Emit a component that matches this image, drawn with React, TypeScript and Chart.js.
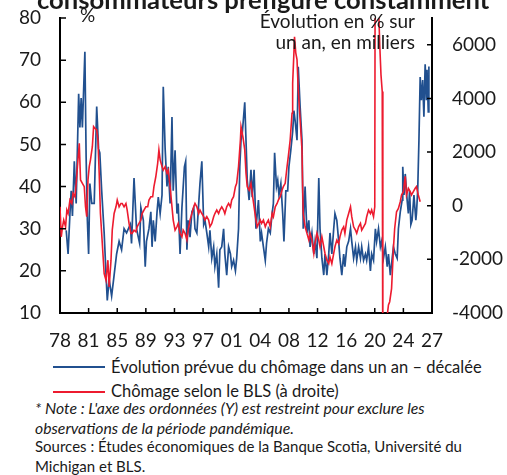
import React, { useEffect, useRef } from 'react';
import { Chart, registerables } from 'chart.js';

Chart.register(...registerables);

// ---- Axis / tick data ----
const START_YEAR = 1978;
const X_MAX_MONTH = 598; // months after Jan 1978
const X_TICK_STEP = 46; // months between x-axis labels
const leftTicks = [10, 20, 30, 40, 50, 60, 70, 80];
const rightTicks = [-4000, -2000, 0, 2000, 4000, 6000];

// ---- Series: expected change in unemployment, shifted (left axis, %) ----
// months counted from Jan 1978
const blueMonths = [
  10, 13, 16, 18, 20, 23, 26, 30, 32, 34,
  36, 40, 42, 44, 46, 48, 51, 55, 59, 62,
  64, 67, 71, 74, 76, 79, 83, 87, 91, 95,
  99, 103, 107, 113, 115, 119, 123, 128, 130, 134,
  137, 139, 143, 146, 148, 150, 153, 156, 158, 161,
  164, 166, 169, 172, 174, 177, 180, 182, 185, 188,
  190, 193, 196, 200, 202, 204, 206, 209, 212, 215,
  217, 220, 223, 225, 228, 231, 233, 236, 239, 241,
  244, 247, 249, 252, 255, 257, 260, 263, 265, 268,
  271, 274, 276, 279, 282, 284, 287, 289, 291, 293,
  297, 299, 301, 304, 307, 309, 312, 315, 319, 322,
  324, 327, 330, 332, 335, 338, 341, 343, 345, 348,
  350, 352, 355, 358, 360, 363, 366, 368, 371, 374,
  376, 378, 381, 383, 386, 389, 391, 394, 397, 400,
  402, 405, 408, 410, 413, 416, 418, 421, 424, 426,
  429, 432, 434, 437, 440, 442, 445, 448, 450, 453,
  456, 458, 461, 464, 467, 469, 472, 475, 477, 480,
  483, 485, 488, 491, 493, 496, 499, 501, 504, 507,
  509, 512, 515, 517, 520, 523, 526, 528, 531, 534,
  536, 539, 542, 544, 547, 550, 551, 553, 555, 558,
  560, 562, 564, 566, 569, 572, 573, 575, 577, 579,
  581, 583, 585, 587, 589, 590, 592, 593,
];
const blueValues = [
  29.6, 24, 33.6, 39, 33, 46, 36, 62, 54, 61,
  54, 72, 47, 32, 24, 40.7, 36, 36, 59, 49,
  48, 39, 29, 19, 13, 18, 14, 19, 24, 27,
  25, 30, 29, 31, 26.5, 42, 30, 26.5, 35, 32,
  21, 27, 30, 34, 25.7, 32, 27, 34, 37.5, 33.6,
  38, 63.7, 49, 40, 44.7, 36, 56.5, 39, 48.6, 33.6,
  36, 24, 35, 44.7, 46, 25, 32, 28, 34, 35,
  30, 29, 36, 40.7, 46, 31, 32, 29, 25.7, 29.6,
  23, 25.7, 21, 24, 16, 25, 25.7, 30, 24, 19,
  25.7, 24, 21, 22.5, 20, 23, 30, 44.7, 51, 52.6,
  60, 51, 41.5, 36.8, 44, 37.5, 44, 30, 36.8, 27,
  29, 25.7, 22.5, 26.5, 30, 29, 33.6, 36, 48, 40,
  41.5, 38, 40.7, 33.6, 27, 39, 39, 44.7, 48.6, 53,
  58, 55.6, 51, 68.4, 59, 51, 30, 40, 29, 32,
  25.7, 29, 24, 27, 23, 42, 30, 23, 19, 24,
  19, 24, 29, 24, 30, 33.6, 32, 27, 23, 19,
  24, 21, 25.7, 27, 30, 27, 23, 25.7, 22.5, 25.7,
  23, 25.7, 22.5, 24, 22.5, 25.7, 20, 24, 22.5, 30,
  27, 30, 25.7, 27, 23, 25.7, 21, 24, 19, 23,
  25.7, 24, 23, 30, 34, 36.8, 44.7, 38, 43, 36.8,
  33.6, 39, 31, 32, 38, 32, 33.6, 39, 51, 66,
  60.5, 65.3, 56.6, 69, 60.5, 67.7, 57.7, 68.5,
];

// ---- Series: BLS unemployment, y/y change in thousands (right axis) ----
const redMonths = [
  0, 2, 4, 6, 9, 11, 13, 16, 19, 21,
  24, 26, 28, 31, 33, 36, 39, 41, 43, 45,
  47, 49, 52, 54, 56, 59, 61, 63, 65, 69,
  71, 74, 77, 79, 82, 84, 87, 90, 92, 95,
  98, 100, 103, 106, 108, 111, 114, 116, 119, 122,
  124, 127, 130, 132, 135, 138, 141, 143, 146, 149,
  151, 154, 157, 159, 161, 164, 166, 169, 172, 174,
  177, 180, 182, 185, 188, 190, 193, 196, 198, 201,
  204, 206, 209, 212, 215, 217, 220, 223, 225, 228,
  231, 233, 236, 239, 241, 244, 247, 249, 252, 255,
  257, 260, 263, 265, 268, 271, 274, 276, 279, 282,
  284, 287, 290, 291, 294, 297, 299, 301, 304, 307,
  309, 312, 315, 317, 322, 324, 327, 330, 332, 335,
  338, 341, 343, 346, 349, 351, 354, 357, 359, 362,
  365, 367, 370, 373, 374, 376, 377, 379, 381, 383,
  386, 389, 390, 391, 394, 397, 400, 402, 405, 408,
  410, 413, 416, 418, 421, 424, 426, 429, 432, 434,
  437, 440, 442, 445, 448, 450, 453, 456, 458, 461,
  464, 467, 469, 472, 475, 477, 480, 483, 485, 488,
  491, 493, 496, 499, 501, 504, 506, 507, 508, 510,
  512, 514, 516, 518, 519, 521, 523, 525, 528, 530,
  533, 536, 538, 541, 544, 547, 549, 552, 555, 557,
  560, 563, 565, 568, 571, 573, 576, 579,
];
const redValues = [
  -40, -1160, -785, -535, -785, -160, -290, 210, 85, 460,
  335, 835, 1460, 2330, 960, 835, 710, -40, -410, 960,
  1460, 1710, 2200, 2950, 2890, 2830, 2450, 1210, -290, -1780,
  -2530, -2780, -2030, -3030, -2030, -910, -290, -40, 210, -40,
  85, 85, -40, 85, -160, -660, -1030, -1030, -910, -970,
  -785, -660, -535, -290, -160, -40, -40, 210, 335, 335,
  710, 1080, 1580, 2080, 1710, 1460, 1330, 1460, 1210, 1330,
  710, -40, -535, -910, -785, -660, -1030, -1160, -910, -1030,
  -1280, -910, -535, -290, -40, 85, -40, -290, -160, -290,
  -410, -535, -410, -535, -785, -660, -410, -290, -160, -290,
  -160, -40, -160, -290, -40, 85, -40, 210, 335, 710,
  835, 1460, 2450, 2950, 2580, 2080, 1210, 710, 585, 835,
  460, -40, -535, -785, -535, -660, -535, -785, -660, -535,
  -785, -290, -410, -40, 85, 210, 335, 585, 710, 835,
  1460, 1830, 2450, 3450, 4570, 5690, 6300, 5700, 5450, 4320,
  3200, 2080, 710, -290, -785, -1030, -1280, -1030, -1280, -1780,
  -1410, -1030, -1280, -1530, -1160, -1530, -1780, -2030, -2160, -1910,
  -2160, -1780, -1530, -1280, -1410, -1160, -910, -785, -1030, -535,
  -290, -40, -410, -785, -910, -1030, -785, -660, -910, -785,
  -660, -410, -160, -290, -160, -410, -40, 15000, 12000, 9500,
  7500, 6000, 4880, 4260, -7500, -6000, -5000, -4300, -3700, -3580,
  -3090, -1600, -850, -225, -100, 150, 400, 525, 1100, 400,
  650, 525, 400, 525, 650, 710, 400, 150,
];

const titleText = 'consommateurs préfigure constamment';
const leftUnit = '%';
const rightUnitLines = ['Évolution en % sur', 'un an, en milliers'];
const legendLabels = [
  'Évolution prévue du chômage dans un an – décalée',
  'Chômage selon le BLS (à droite)',
];
const noteLines = [
  "* Note : L'axe des ordonnées (Y) est restreint pour exclure les",
  'observations de la période pandémique.',
];
const sourceLines = [
  'Sources : Études économiques de la Banque Scotia, Université du',
  'Michigan et BLS.',
];

const BLUE = '#21508f';
const RED = '#ed1b2f';
const TEXT = '#1a1a1a';
const FONT = 'Lato, "Open Sans", sans-serif';

const innerTicks = {
  id: 'innerTicks',
  afterDraw(chart: any) {
    const { ctx, chartArea, scales } = chart;
    const { left, right, bottom } = chartArea;
    ctx.save();
    ctx.strokeStyle = '#000';
    ctx.lineWidth = 1.5;
    ctx.beginPath();
    scales.y.ticks.forEach((t: any) => {
      const p = scales.y.getPixelForValue(t.value);
      ctx.moveTo(left, p);
      ctx.lineTo(left + 6, p);
    });
    scales.y1.ticks.forEach((t: any) => {
      const p = scales.y1.getPixelForValue(t.value);
      ctx.moveTo(right - 5, p);
      ctx.lineTo(right, p);
    });
    scales.x.ticks.forEach((t: any) => {
      const p = scales.x.getPixelForValue(t.value);
      ctx.moveTo(p, bottom);
      ctx.lineTo(p, bottom - 5);
    });
    ctx.stroke();
    ctx.restore();
  },
};

const noPad = (s: any) => {
  s.paddingTop = 0;
  s.paddingBottom = 0;
  s.paddingLeft = 0;
  s.paddingRight = 0;
};

export default function App() {
  const canvasRef = useRef<HTMLCanvasElement | null>(null);

  useEffect(() => {
    if (!canvasRef.current) return;
    const tickFont = { family: FONT, size: 19 };
    const chart = new Chart(canvasRef.current, {
      type: 'line',
      data: {
        datasets: [
          {
            label: legendLabels[0],
            data: blueMonths.map((m, i) => ({ x: m, y: blueValues[i] })),
            borderColor: BLUE,
            borderWidth: 1.7,
            pointRadius: 0,
            yAxisID: 'y',
            order: 2,
          },
          {
            label: legendLabels[1],
            data: redMonths.map((m, i) => ({ x: m, y: redValues[i] })),
            borderColor: RED,
            borderWidth: 1.6,
            pointRadius: 0,
            yAxisID: 'y1',
            order: 1,
          },
        ],
      },
      options: {
        animation: false,
        responsive: false,
        maintainAspectRatio: false,
        layout: { padding: { top: 18, left: 0, right: 0, bottom: 0 } },
        plugins: { legend: { display: false }, tooltip: { enabled: false } },
        scales: {
          x: {
            type: 'linear',
            min: 0,
            max: X_MAX_MONTH,
            grid: { display: false, drawTicks: false },
            border: { display: true, color: '#000', width: 2 },
            ticks: {
              stepSize: X_TICK_STEP,
              autoSkip: false,
              maxRotation: 0,
              color: TEXT,
              font: tickFont,
              padding: 16,
              callback: (v: any) =>
                String((START_YEAR + Math.floor(Number(v) / 12)) % 100).padStart(2, '0'),
            },
            afterFit: (s: any) => {
              s.height = 42;
              noPad(s);
            },
          },
          y: {
            position: 'left',
            min: 10,
            max: 80,
            grid: { display: false, drawTicks: false },
            border: { display: true, color: '#000', width: 2 },
            ticks: { color: TEXT, font: tickFont, padding: 19, callback: (v: any) => String(v) },
            afterBuildTicks: (s: any) => {
              s.ticks = leftTicks.map((v) => ({ value: v }));
            },
            afterFit: (s: any) => {
              s.width = 60;
              noPad(s);
            },
          },
          y1: {
            position: 'right',
            min: -4000,
            max: 7000,
            grid: { display: false, drawTicks: false },
            border: { display: true, color: '#000', width: 2 },
            ticks: { color: TEXT, font: tickFont, padding: 20, callback: (v: any) => String(v) },
            afterBuildTicks: (s: any) => {
              s.ticks = rightTicks.map((v) => ({ value: v }));
            },
            afterFit: (s: any) => {
              s.width = 75;
              noPad(s);
            },
          },
        },
      } as any,
      plugins: [innerTicks],
    });
    return () => chart.destroy();
  }, []);

  const abs = (o: React.CSSProperties): React.CSSProperties => ({
    position: 'absolute',
    whiteSpace: 'nowrap',
    margin: 0,
    ...o,
  });

  return (
    <div
      style={{
        position: 'absolute',
        left: 0,
        top: 0,
        width: 507,
        height: 475,
        overflow: 'hidden',
        background: '#fff',
        fontFamily: FONT,
        color: TEXT,
      }}
    >
      <canvas
        ref={canvasRef}
        width={507}
        height={355}
        style={{ position: 'absolute', left: 0, top: 0, width: 507, height: 355 }}
      />
      <div style={abs({ left: 37, top: -16.3, fontSize: 25.6, fontWeight: 700, lineHeight: '30.7px' })}>
        {titleText}
      </div>
      <div style={abs({ left: 80, top: 4.3, fontSize: 19, lineHeight: '22.8px' })}>{leftUnit}</div>
      <div style={abs({ right: 92, top: 9.5, fontSize: 19, lineHeight: '22.8px', textAlign: 'right' })}>
        {rightUnitLines[0]}
      </div>
      <div style={abs({ right: 92, top: 31.2, fontSize: 19, lineHeight: '22.8px', textAlign: 'right' })}>
        {rightUnitLines[1]}
      </div>
      <div style={abs({ left: 53, top: 366, width: 52, height: 2, background: BLUE })} />
      <div style={abs({ left: 111, top: 357.7, fontSize: 16.5, lineHeight: '19.8px' })}>{legendLabels[0]}</div>
      <div style={abs({ left: 53, top: 391, width: 52, height: 2, background: RED })} />
      <div style={abs({ left: 111, top: 382, fontSize: 16.5, lineHeight: '19.8px' })}>{legendLabels[1]}</div>
      <div style={abs({ left: 35, top: 397.8, fontSize: 15.8, fontStyle: 'italic', lineHeight: '19px' })}>
        {noteLines[0]}
      </div>
      <div style={abs({ left: 35, top: 417.8, fontSize: 15.8, fontStyle: 'italic', lineHeight: '19px' })}>
        {noteLines[1]}
      </div>
      <div style={abs({ left: 35, top: 436.9, fontSize: 15, lineHeight: '18px' })}>{sourceLines[0]}</div>
      <div style={abs({ left: 35, top: 456.9, fontSize: 15, lineHeight: '18px' })}>{sourceLines[1]}</div>
    </div>
  );
}
